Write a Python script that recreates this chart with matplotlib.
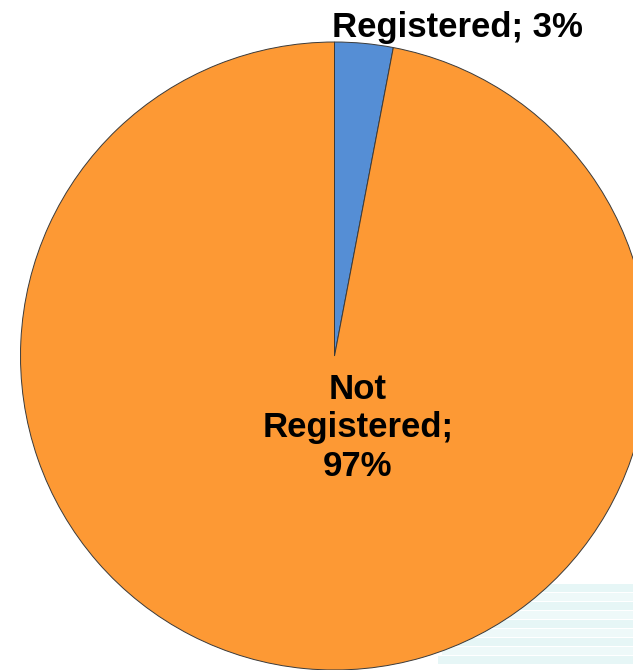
import matplotlib
matplotlib.use("Agg")
import matplotlib.pyplot as plt
from matplotlib.patches import Rectangle

categories = ["Registered", "Not Registered"]
values = [3, 97]
label_texts = ["Registered; 3%", "Not\nRegistered;\n97%"]
colors = ["#558ED5", "#FD9934"]

W, H = 633, 670
fig = plt.figure(figsize=(W / 100, H / 100), dpi=100)
ax = fig.add_axes([0, 0, 1, 1])

cx, cy, r = 334.5, H - 356, 314
ax.pie(values, colors=colors, startangle=90, counterclock=False,
       center=(cx, cy), radius=r, frame=True,
       wedgeprops=dict(edgecolor="#3a3a3a", linewidth=0.7))
ax.set_xlim(0, W)
ax.set_ylim(0, H)
ax.set_aspect("equal")
ax.axis("off")

# faint decorative background stripes (bottom right)
for i in range(9):
    c = "#E6F6F6" if i % 2 == 0 else "#EEF9F9"
    ax.add_patch(Rectangle((470 - i * 4, 78 - i * 9), W, 8, color=c, zorder=-1, lw=0))

font = dict(family=["Liberation Sans", "DejaVu Sans"], weight="bold", fontsize=25, color="black")
ax.text(457, H - 27, label_texts[0], ha="center", va="center", **font)
ax.text(358, H - 428, label_texts[1], ha="center", va="center", linespacing=1.22, **font)

fig.savefig("out.png", dpi=100, facecolor="white")
